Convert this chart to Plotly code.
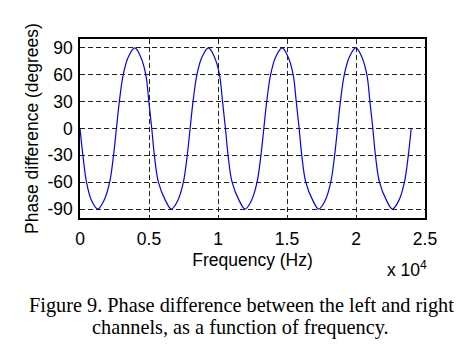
import plotly.graph_objects as go

# Frequency (Hz) and phase difference (degrees)
freq_hz = [0, 210, 470, 820, 1280, 1750, 2150, 2430, 2640, 2850, 3130, 3500, 3970,
           4400, 4770, 4990, 5200, 5390, 5680, 6180, 6620,
           7100, 7490, 7770, 7980, 8190, 8470, 8840, 9310,
           9740, 10110, 10330, 10540, 10730, 11020, 11520, 11960,
           12440, 12830, 13110, 13320, 13530, 13810, 14180, 14650,
           15080, 15450, 15670, 15880, 16070, 16360, 16860, 17300,
           17780, 18170, 18450, 18660, 18870, 19150, 19520, 19990,
           20420, 20790, 21010, 21220, 21410, 21700, 22200, 22640,
           23120, 23510, 23790, 24000]
phase_deg = [0, -30, -60, -80, -90, -80, -60, -30, 0, 30, 60, 80, 90,
             80, 60, 30, 0, -30, -60, -80, -90,
             -80, -60, -30, 0, 30, 60, 80, 90,
             80, 60, 30, 0, -30, -60, -80, -90,
             -80, -60, -30, 0, 30, 60, 80, 90,
             80, 60, 30, 0, -30, -60, -80, -90,
             -80, -60, -30, 0, 30, 60, 80, 90,
             80, 60, 30, 0, -30, -60, -80, -90,
             -80, -60, -30, 0]

x_tick_vals = [0, 5000, 10000, 15000, 20000, 25000]
x_tick_text = ["0", "0.5", "1", "1.5", "2", "2.5"]
y_tick_vals = [-90, -60, -30, 0, 30, 60, 90]
y_tick_text = ["-90", "-60", "-30", "0", "30", "60", "90"]

x_title = "Frequency (Hz)"
y_title = "Phase difference (degrees)"
exp_label = "x 10<sup>4</sup>"
caption_lines = ["Figure 9. Phase difference between the left and right",
                 "channels, as a function of frequency."]

sans = "Liberation Sans, Arial, sans-serif"
serif = "Liberation Serif, Times New Roman, serif"

fig = go.Figure()
fig.add_trace(go.Scatter(
    x=freq_hz, y=phase_deg, mode="lines",
    line=dict(color="#0000ff", width=1.2, shape="spline", smoothing=1.0),
    showlegend=False, hoverinfo="skip",
))

axis_common = dict(
    showline=True, linecolor="black", linewidth=1.5, mirror=True,
    showgrid=True, gridcolor="#222222", gridwidth=1, griddash="5px,3px",
    zeroline=False, ticks="", tickfont=dict(family=sans, size=17.5, color="black"),
)

fig.update_layout(
    width=464, height=350,
    margin=dict(l=80, r=39, t=39, b=132),
    paper_bgcolor="white", plot_bgcolor="white",
    font=dict(family=sans, color="black"),
    xaxis=dict(range=[0, 25000], tickvals=x_tick_vals, ticktext=x_tick_text,
               ticklabelstandoff=4,
               title=dict(text=x_title, font=dict(family=sans, size=17.5), standoff=6),
               **axis_common),
    yaxis=dict(range=[-100, 100], tickvals=y_tick_vals, ticktext=y_tick_text,
               ticklabelstandoff=2,
               title=dict(text=y_title, font=dict(family=sans, size=17.5), standoff=4),
               **axis_common),
)

fig.add_annotation(text=exp_label, xref="paper", yref="paper", x=1.012, y=-0.215,
                   xanchor="right", yanchor="top", showarrow=False,
                   font=dict(family=sans, size=17.5, color="black"))
for txt, cx, cy in zip(caption_lines, [0.4693, 0.4661], [-0.4916, -0.6145]):
    fig.add_annotation(text=txt, xref="paper", yref="paper", x=cx, y=cy,
                       xanchor="center", yanchor="middle", showarrow=False,
                       font=dict(family=serif, size=20.3, color="black"))

fig.write_html("out.html")
